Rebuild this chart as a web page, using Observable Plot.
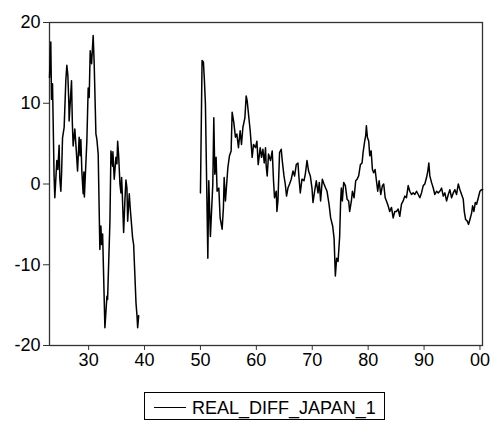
<!DOCTYPE html>
<html>
<head>
<meta charset="utf-8">
<script src="https://cdn.jsdelivr.net/npm/d3@7"></script>
<script src="https://cdn.jsdelivr.net/npm/@observablehq/plot@0.6"></script>
<style>
  html, body { margin: 0; padding: 0; background: #fff; }
  #wrap { position: relative; width: 493px; height: 424px; font-family: 'Liberation Sans', Arial, sans-serif; }
  #legend { position: absolute; left: 144px; top: 392px; width: 241px; height: 28px; border: 1px solid #000; box-sizing: border-box; }
  #legend svg { position: absolute; left: 0; top: 0; }
</style>
</head>
<body>
<div id="wrap"><div id="chart"></div><div id="legend"></div></div>
<script>
const seriesName = "REAL_DIFF_JAPAN_1";
const xTicks = [1930, 1940, 1950, 1960, 1970, 1980, 1990, 2000];
const xTickLabels = ["30", "40", "50", "60", "70", "80", "90", "00"];
const yTicks = [-20, -10, 0, 10, 20];
const yTickLabels = ["-20", "-10", "0", "10", "20"];

// segment 1: 1923 - 1939 [year, value]
const segment1 = [
  [1923.00,13.2],[1923.23,17.6],[1923.36,10.5],[1923.54,12.4],[1923.82,1.0],[1923.95,-1.7],
  [1924.31,2.9],[1924.49,1.8],[1924.72,4.8],[1924.85,0.6],[1925.03,-0.9],[1925.17,1.5],
  [1925.33,5.7],[1925.62,7.0],[1925.92,12.8],[1926.10,14.7],[1926.28,13.5],[1926.46,10],
  [1926.51,7.8],[1926.94,12.8],[1927.09,7.5],[1927.23,4.7],[1927.53,6.8],[1927.71,5],
  [1928.02,1.6],[1928.30,5.8],[1928.47,3.5],[1928.61,5.5],[1928.79,1.5],[1929.02,-1.2],
  [1929.15,1.5],[1929.24,-1.6],[1929.68,5.3],[1929.92,11.9],[1930.10,10.7],[1930.28,16.5],
  [1930.53,14.9],[1930.81,18.4],[1930.99,15],[1931.30,6.2],[1931.48,5.5],[1931.71,3.7],
  [1932.01,-8.1],[1932.19,-5.2],[1932.32,-7.5],[1932.50,-6.2],[1932.91,-17.8],[1933.27,-13.9],
  [1933.39,-14.3],[1933.81,-4.6],[1933.99,4.1],[1934.16,3],[1934.29,2.2],[1934.34,4],
  [1934.58,0.6],[1934.88,3.3],[1935.06,2.5],[1935.19,5.3],[1935.37,3.5],[1935.60,0],
  [1935.78,-1.1],[1935.90,0.8],[1936.01,-1],[1936.26,-6.0],[1936.49,-2],[1936.67,0.5],
  [1936.85,-0.5],[1936.98,-4.6],[1937.27,-1.2],[1937.44,-3],[1937.87,-6.7],[1938.05,-7.5],
  [1938.47,-14.7],[1938.65,-16.3],[1938.77,-17.8],[1938.95,-16.3]
];

// segment 2: 1950 - 2000 [year, value]
const segment2 = [
  [1950.00,-1.1],[1950.29,15.3],[1950.53,15.1],[1950.71,12.8],[1950.89,9.9],[1951.32,-9.2],
  [1951.49,0.4],[1951.78,-6.5],[1952.21,0],[1952.39,8.2],[1952.57,1.2],[1952.80,3.3],
  [1952.98,-0.9],[1953.29,-0.5],[1953.52,-4.2],[1953.88,-5.6],[1954.11,-2.9],[1954.24,0.8],
  [1954.47,-2.1],[1954.90,2.0],[1955.19,3.5],[1955.49,4.1],[1955.67,8.9],[1955.97,7.6],
  [1956.26,5.8],[1956.51,6.2],[1956.80,4.5],[1957.10,6.6],[1957.34,4.9],[1957.59,7.0],
  [1957.95,8.2],[1958.18,10.9],[1958.36,10.3],[1958.66,8.2],[1958.90,6.6],[1959.25,3.3],
  [1959.49,4.9],[1959.85,4.5],[1960.10,5.3],[1960.33,2.4],[1960.69,4.5],[1960.92,3.3],
  [1961.17,4.3],[1961.41,2.6],[1961.64,4.5],[1961.76,2.2],[1961.94,1.0],[1962.18,3.7],
  [1962.53,2.9],[1962.84,4.1],[1963.07,0.4],[1963.25,-1.7],[1963.56,-0.9],[1963.68,-3.4],
  [1963.86,-2.1],[1964.15,3.9],[1964.45,4.3],[1964.63,2.9],[1964.94,1.0],[1965.17,0],
  [1965.40,-1.5],[1965.65,-0.5],[1965.94,0],[1966.24,0.6],[1966.55,1.6],[1966.84,1.0],
  [1967.14,2.4],[1967.44,2.6],[1967.62,0.8],[1967.86,-1.1],[1968.16,0.6],[1968.52,0.4],
  [1968.75,1.2],[1969.06,2.9],[1969.34,1.6],[1969.65,1.0],[1969.95,-0.5],[1970.13,-2.3],
  [1970.42,-0.9],[1970.72,0.4],[1971.03,-1.1],[1971.26,0.2],[1971.49,-2.1],[1971.80,0.6],
  [1972.10,0],[1972.39,-0.5],[1972.64,-0.9],[1973.00,-2.5],[1973.29,-4.2],[1973.65,-5.2],
  [1973.90,-6.7],[1974.13,-11.4],[1974.36,-9.2],[1974.61,-9.6],[1974.90,-6.5],[1975.08,-2],
  [1975.20,-0.5],[1975.38,-2.1],[1975.62,0.2],[1975.92,-0.2],[1976.23,-1.9],[1976.51,-2.1],
  [1976.69,-3.4],[1977.00,-2.1],[1977.18,-0.9],[1977.48,-1.7],[1977.77,0.4],[1978.02,0.6],
  [1978.30,1.0],[1978.61,2.4],[1978.91,2.6],[1979.09,3.9],[1979.38,5.3],[1979.56,6.0],
  [1979.68,7.2],[1979.86,5.8],[1980.10,5.3],[1980.28,3.5],[1980.53,4.1],[1980.76,1.8],
  [1980.99,1.4],[1981.24,1.8],[1981.48,0.4],[1981.71,-0.9],[1981.96,0.4],[1982.25,-1.3],
  [1982.55,-0.2],[1982.78,0],[1983.04,-1.7],[1983.27,-2.1],[1983.57,-2.7],[1983.86,-3.4],
  [1984.17,-2.9],[1984.47,-4.2],[1984.76,-3.4],[1985.06,-3.4],[1985.37,-3.1],[1985.65,-4.0],
  [1985.96,-2.5],[1986.26,-2.1],[1986.55,-1.5],[1986.85,-1.7],[1987.16,-0.2],[1987.44,-0.9],
  [1987.75,-1.3],[1988.05,-1.1],[1988.34,-1.3],[1988.65,-0.9],[1988.95,-1.3],[1989.24,-1.7],
  [1989.54,-1.1],[1989.85,-0.2],[1990.13,0],[1990.44,0.8],[1990.67,1.6],[1990.85,2.6],
  [1991.03,1.0],[1991.33,0.2],[1991.64,-0.5],[1991.92,-1.3],[1992.23,-0.9],[1992.53,-1.1],
  [1992.82,-0.9],[1993.13,-0.5],[1993.43,-1.5],[1993.72,-1.1],[1994.02,-2.1],[1994.33,-1.3],
  [1994.61,-0.7],[1994.92,-1.7],[1995.22,-1.1],[1995.51,-0.7],[1995.81,-1.3],[1996.12,0],
  [1996.41,-0.7],[1996.71,-1.3],[1997.01,-1.9],[1997.19,-3.4],[1997.43,-4.4],[1997.73,-4.6],
  [1997.96,-5.0],[1998.20,-4.4],[1998.50,-3.6],[1998.68,-2.7],[1998.91,-3.4],[1999.16,-2.3],
  [1999.40,-2.5],[1999.70,-1.7],[1999.99,-0.9],[2000.29,-0.7],[2000.47,-0.7]
];

const data = [
  ...segment1.map(([year, value]) => ({year, value, seg: 1})),
  ...segment2.map(([year, value]) => ({year, value, seg: 2}))
];

const chart = Plot.plot({
  width: 493,
  height: 375,
  marginLeft: 49,
  marginRight: 11,
  marginTop: 22,
  marginBottom: 30,
  style: {fontFamily: "'Liberation Sans', Arial, sans-serif", fontSize: "18px", color: "#000", background: "#fff", overflow: "visible"},
  x: {domain: [1923, 2000.45], label: null},
  y: {domain: [-20, 20], label: null},
  marks: [
    Plot.axisX({ticks: xTicks, tickFormat: d => xTickLabels[xTicks.indexOf(d)], tickSize: 5, tickPadding: 3, label: null, stroke: "#333", fontSize: 18}),
    Plot.axisY({ticks: yTicks, tickFormat: d => yTickLabels[yTicks.indexOf(d)], tickSize: 6, tickPadding: 3, label: null, stroke: "#333", fontSize: 18}),
    Plot.frame({stroke: "#333", strokeWidth: 1.3}),
    Plot.line(data, {x: "year", y: "value", z: "seg", stroke: "#000", strokeWidth: 1.5})
  ]
});
document.getElementById("chart").appendChild(chart);

// legend
const lg = d3.select("#legend").append("svg").attr("width", 241).attr("height", 28);
lg.append("line").attr("x1", 9).attr("x2", 41).attr("y1", 14.5).attr("y2", 14.5).attr("stroke", "#000").attr("stroke-width", 1);
lg.append("text").attr("x", 47).attr("y", 21).attr("font-size", 18).attr("font-family", "'Liberation Sans', Arial, sans-serif").attr("fill", "#000").text(seriesName);
</script>
</body>
</html>
